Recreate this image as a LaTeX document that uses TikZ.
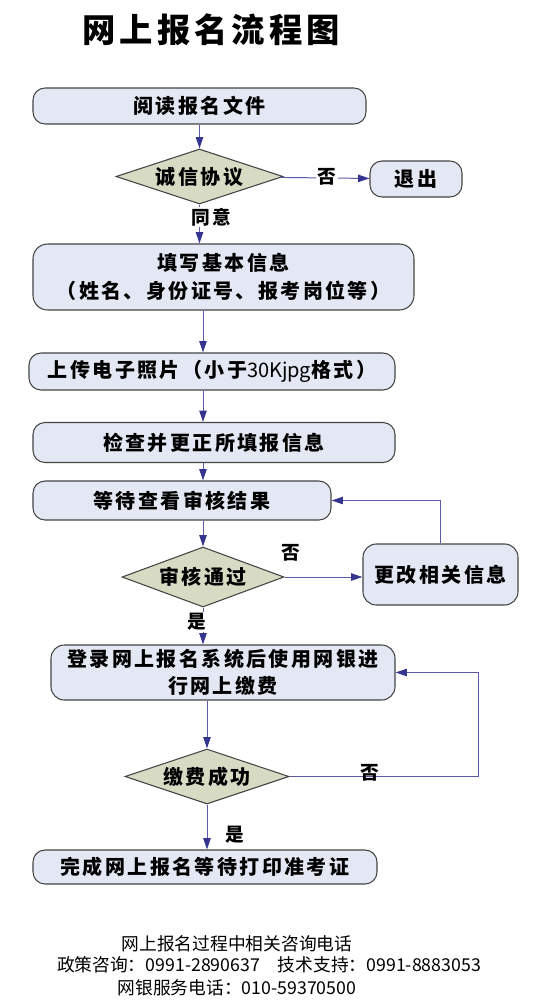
\documentclass[tikz,border=0pt]{standalone}
\usepackage{fontspec}
\usepackage{xcolor}
\usetikzlibrary{positioning,shapes.geometric,arrows.meta}
\newfontfamily\cjk{Noto Sans CJK SC}
\newfontfamily\cjkbox[LetterSpace=12]{Noto Sans CJK SC}
\newfontfamily\cjktitle[LetterSpace=12]{Noto Sans CJK SC}
\definecolor{boxfill}{HTML}{E4E8F4}
\definecolor{decfill}{HTML}{D8DBC4}
\definecolor{edgecol}{HTML}{444444}
\definecolor{linkcol}{HTML}{5A5AA8}
\definecolor{tipcol}{HTML}{35358F}

\begin{document}
\begin{tikzpicture}[x=0.75pt,y=-0.75pt,
  every node/.style={inner sep=0pt},
  stepbox/.style={draw=edgecol,fill=boxfill,line width=0.8pt,rounded corners=9pt,align=center,
    font=\cjkbox\bfseries\fontsize{15}{20.5}\selectfont},
  choice/.style={diamond,aspect=3,draw=edgecol,fill=decfill,line width=0.8pt,
    font=\cjkbox\bfseries\fontsize{15}{17}\selectfont},
  link/.style={draw=linkcol,line width=0.75pt,-{Triangle[length=8.5pt,width=5.5pt,color=tipcol]}},
  note/.style={inner sep=1pt,font=\cjkbox\bfseries\fontsize{14}{16}\selectfont},
  foot/.style={font=\cjk\fontsize{13.3}{16}\selectfont}]
\useasboundingbox (0,0) rectangle (538,1000);
\node[font=\cjktitle\bfseries\fontsize{25}{28}\selectfont] (title) at (211,30) {网上报名流程图};
\node[stepbox,minimum width=249.75pt,minimum height=27pt] (read) at (199.5,106) {阅读报名文件};
\node[choice,minimum width=125.25pt,minimum height=41.25pt] (agree) at (199.5,176.5) {诚信协议};
\node[stepbox,minimum width=69pt,minimum height=27pt] (quit) at (416,179) {退出};
\node[stepbox,rounded corners=11pt,minimum width=285.75pt,minimum height=49.5pt] (info) at (223.5,277)
  {填写基本信息\\（姓名、身份证号、报考岗位等）};
\node[stepbox,minimum width=274.5pt,minimum height=27.75pt] (photo) at (212,371.5)
  {上传电子照片（小于{\cjk\mdseries 30Kjpg}格式）};
\node[stepbox,minimum width=271.5pt,minimum height=30pt] (check) at (214,442.5) {检查并更正所填报信息};
\node[stepbox,minimum width=223.5pt,minimum height=29.25pt] (wait) at (182,500.5) {等待查看审核结果};
\node[choice,minimum width=121.5pt,minimum height=45pt] (pass) at (203,577) {审核通过};
\node[stepbox,rounded corners=10pt,minimum width=116.25pt,minimum height=45.75pt] (modify) at (440.5,574.5) {更改相关信息};
\node[stepbox,rounded corners=10pt,minimum width=258pt,minimum height=41.25pt] (pay) at (223,672.5)
  {登录网上报名系统后使用网银进\\行网上缴费};
\node[choice,minimum width=123pt,minimum height=41.25pt] (paid) at (207,776.5) {缴费成功};
\node[stepbox,minimum width=258pt,minimum height=25.5pt] (done) at (205,867) {完成网上报名等待打印准考证};
\coordinate (payback) at (478,776.5);

\draw[link] (read) -- (agree);
\draw[link] (agree) -- (quit);
\draw[link] (agree) -- (agree |- info.north);
\draw[link] (info.south -| pass) -- (photo.north -| pass);
\draw[link] (photo.south -| pass) -- (check.north -| pass);
\draw[link] (check.south -| pass) -- (wait.north -| pass);
\draw[link] (wait.south -| pass) -- (pass);
\draw[link] (pass) -- (pass -| modify.west);
\draw[link] (modify) |- (wait);
\draw[link] (pass) -- (pass |- pay.north);
\draw[link] (pay.south -| paid) -- (paid);
\draw[link] (paid) -- (payback) |- (pay);
\draw[link] (paid) -- (paid |- done.north);

\node[note,fill=white] (no1) at (327,177) {否};
\node[note,fill=white] (yes0) at (211,217) {同意};
\node[note] (no2) at (291,553) {否};
\node[note,fill=white] (yes1) at (197,622) {是};
\node[note] (no3) at (370,773) {否};
\node[note] (yes2) at (235,835) {是};

\node[foot] (foot1) at (237,944) {网上报名过程中相关咨询电话};
\node[foot] (foot2) at (269,965) {政策咨询：0991-2890637　技术支持：0991-8883053};
\node[foot] (foot3) at (237,988) {网银服务电话：010-59370500};
\end{tikzpicture}
\end{document}
